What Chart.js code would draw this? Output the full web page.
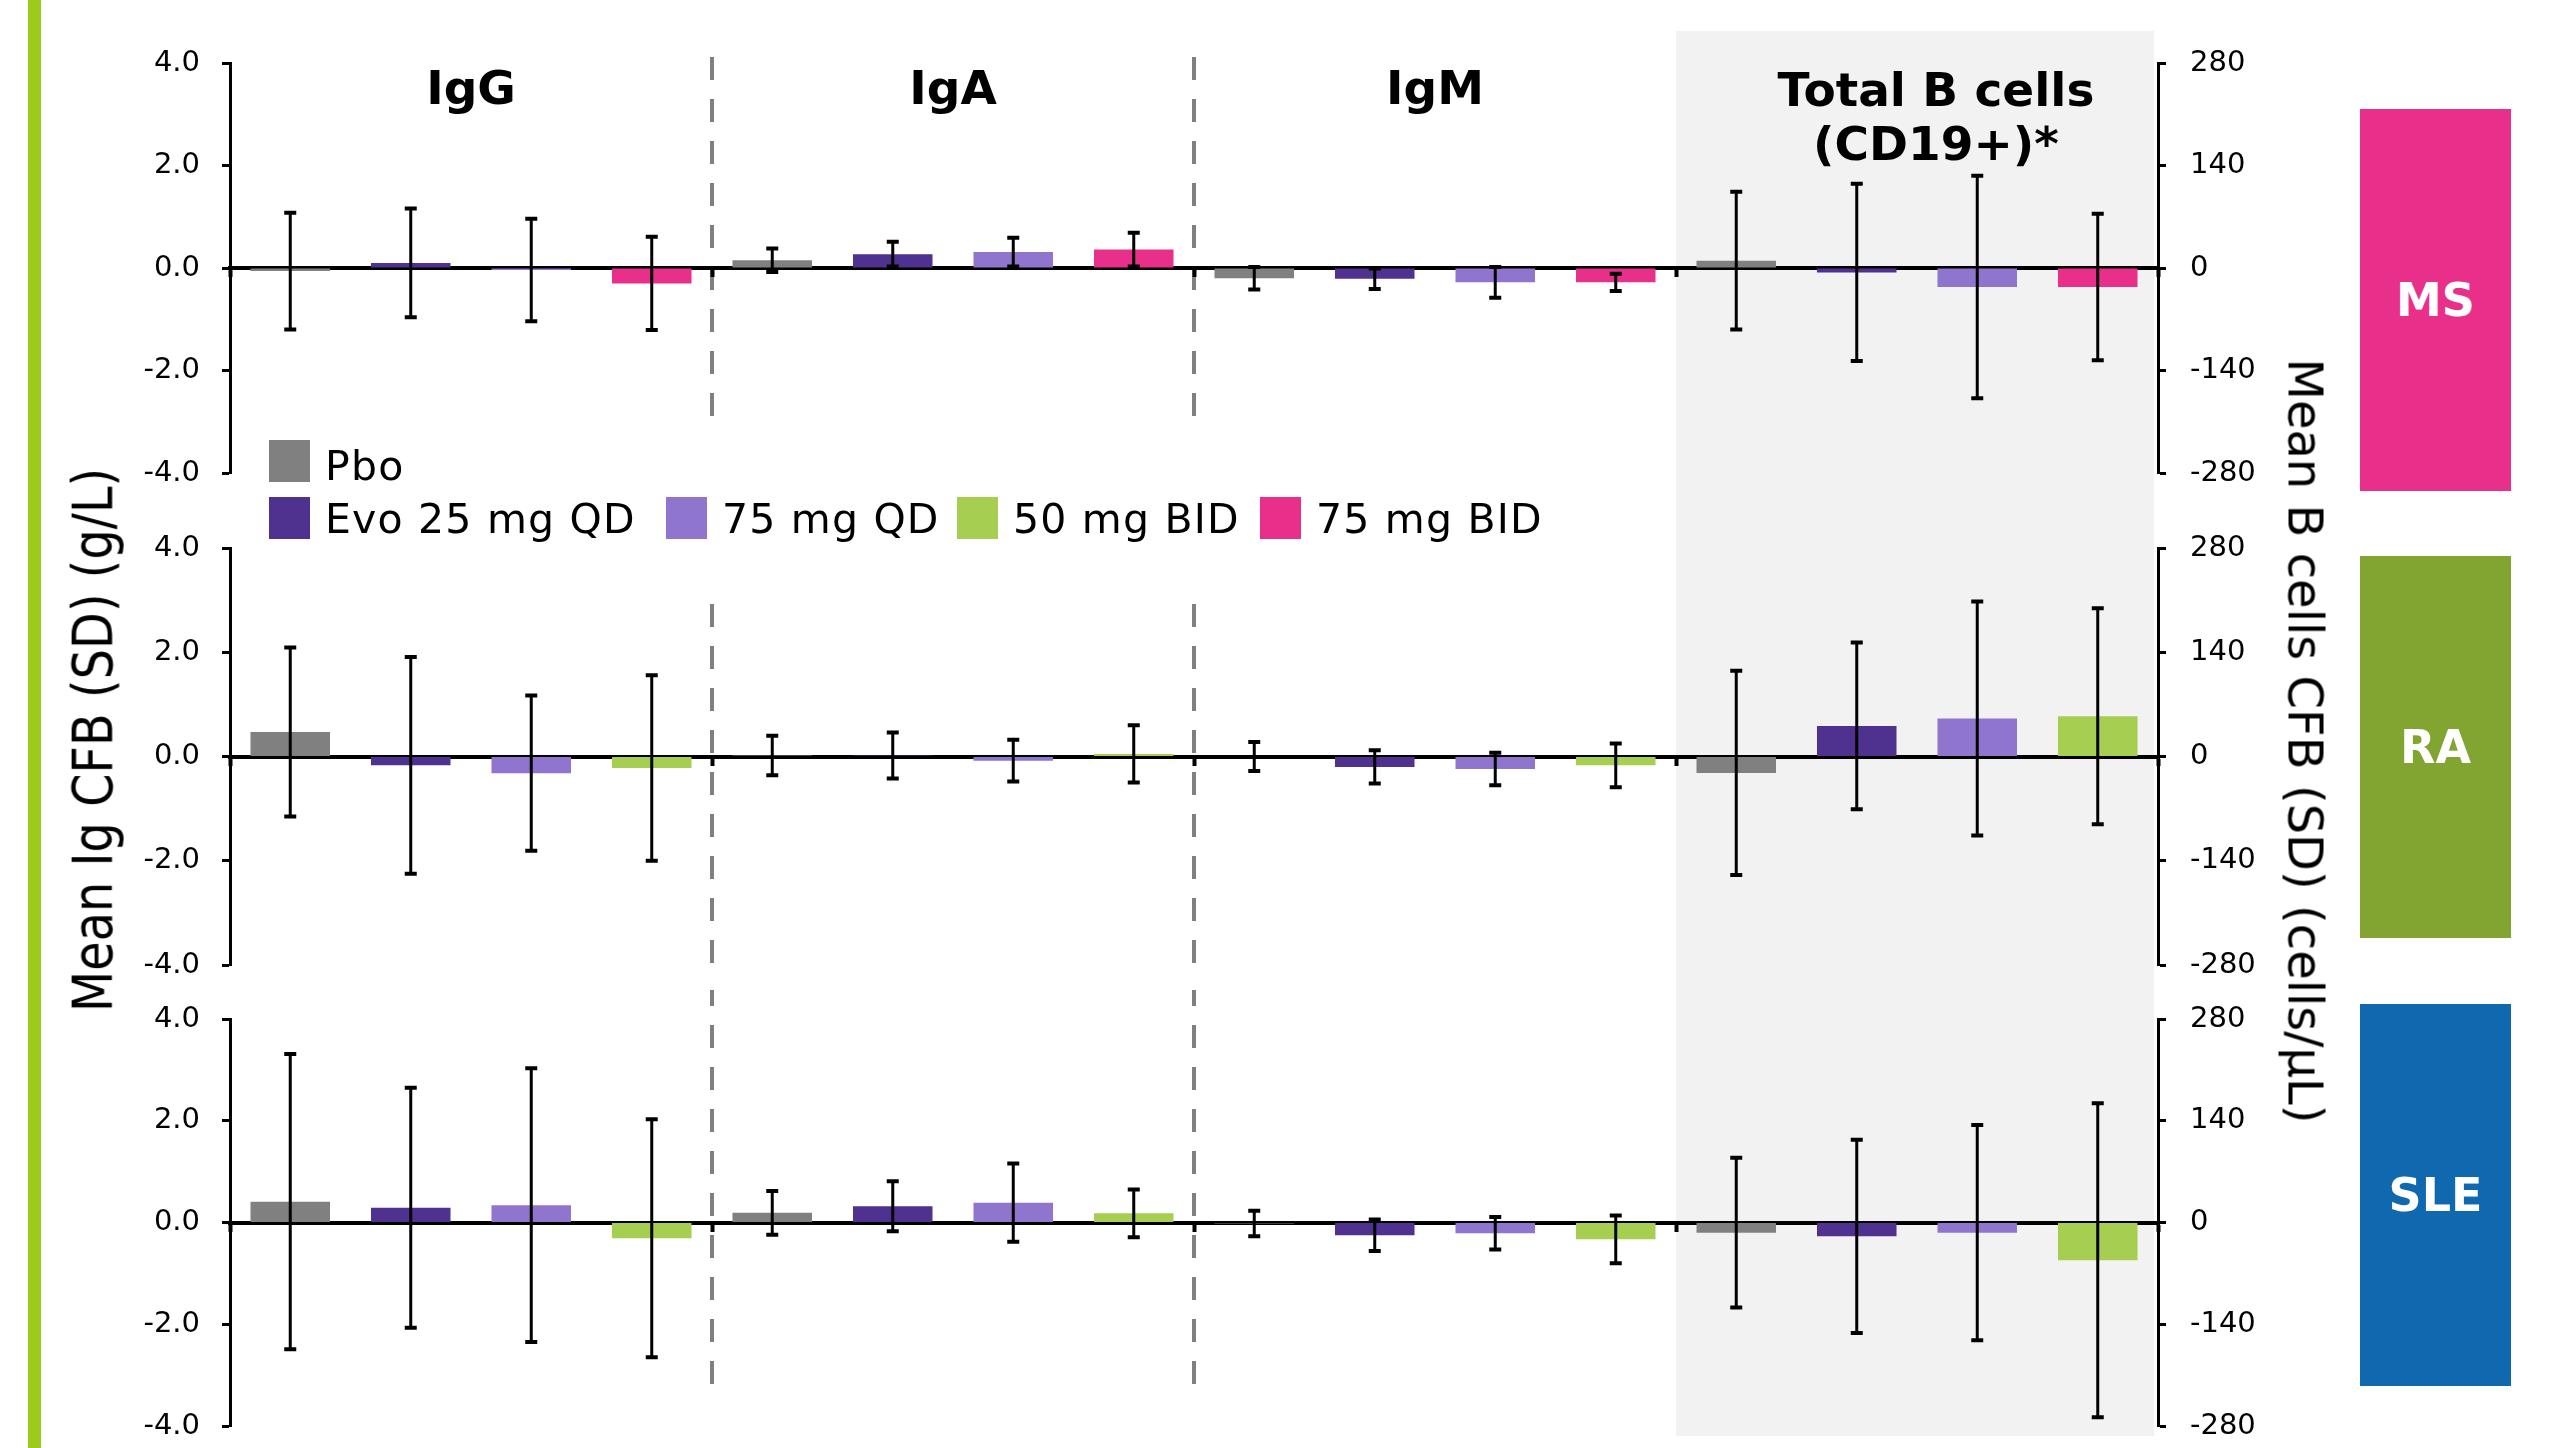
<!DOCTYPE html>
<html>
<head>
<meta charset="utf-8">
<script src="https://cdn.jsdelivr.net/npm/chart.js@4.4.1/dist/chart.umd.min.js"></script>
<style>
html,body{margin:0;padding:0;background:#fff;}
#wrap{position:relative;width:2550px;height:1448px;overflow:hidden;font-family:'DejaVu Sans',sans-serif;background:#fff;}
canvas{position:absolute;left:0;}
.strip{position:absolute;left:28px;top:0;width:13px;height:1448px;background:#9CCB1E;}
.sw{position:absolute;width:41px;height:42px;}
.lt{position:absolute;font-size:41px;line-height:41px;letter-spacing:1.2px;color:#000;white-space:nowrap;}
.side{position:absolute;left:2360px;width:151px;height:382px;display:flex;align-items:center;justify-content:center;color:#fff;font-weight:bold;font-size:46px;}
.ytl{position:absolute;white-space:nowrap;color:#000;line-height:1;}
</style>
</head>
<body>
<div id="wrap">
  <div class="strip"></div>
  <canvas id="c1" width="2550" height="510" style="top:0px"></canvas>
  <canvas id="c2" width="2550" height="480" style="top:510px"></canvas>
  <canvas id="c3" width="2550" height="458" style="top:990px"></canvas>
  <div id="legend"></div>
  <div class="ytl" id="yl" style="font-size:56px;">Mean Ig CFB (SD) (g/L)</div>
  <div class="ytl" id="yr" style="font-size:48px;">Mean B cells CFB (SD) (cells/µL)</div>
  <div class="side" style="top:109px;background:#E8308A;">MS</div>
  <div class="side" style="top:556px;background:#82A532;">RA</div>
  <div class="side" style="top:1004px;background:#1068AF;">SLE</div>
</div>
<script>
// ---- categories & tick labels ----
const categories = ['IgG', 'IgA', 'IgM', 'Total B cells'];
const igTicks = [-4, -2, 0, 2, 4];
const bTicks = [-280, -140, 0, 140, 280];

// ---- series names & colours ----
const seriesNames = ['Pbo', 'Evo 25 mg QD', '75 mg QD', '50 mg BID', '75 mg BID'];
const seriesColors = ['#808080', '#4F3190', '#9075CE', '#A6CE50', '#E8308A'];

// ---- values: [IgG, IgA, IgM (g/L), Total B cells (cells/µL)] ----
// MS
const msPboMean   = [-0.06, 0.15, -0.20, 10];
const msPboSD     = [1.14, 0.23, 0.22, 94];
const msEvo25Mean = [0.10, 0.27, -0.21, -6];
const msEvo25SD   = [1.06, 0.24, 0.20, 121];
const msQD75Mean  = [-0.04, 0.31, -0.28, -26];
const msQD75SD    = [1.00, 0.28, 0.30, 152];
const msBID75Mean = [-0.30, 0.36, -0.28, -26];
const msBID75SD   = [0.91, 0.33, 0.17, 100];
// RA
const raPboMean   = [0.47, 0.02, 0.00, -22];
const raPboSD     = [1.62, 0.38, 0.28, 137];
const raEvo25Mean = [-0.17, 0.02, -0.20, 41];
const raEvo25SD   = [2.08, 0.44, 0.32, 112];
const raQD75Mean  = [-0.32, -0.08, -0.24, 51];
const raQD75SD    = [1.49, 0.40, 0.31, 157];
const raBID50Mean = [-0.22, 0.05, -0.17, 54];
const raBID50SD   = [1.78, 0.55, 0.42, 145];
// SLE
const slePboMean   = [0.41, 0.19, -0.02, -14];
const slePboSD     = [2.90, 0.43, 0.25, 103];
const sleEvo25Mean = [0.29, 0.32, -0.25, -19];
const sleEvo25SD   = [2.36, 0.49, 0.31, 133];
const sleQD75Mean  = [0.34, 0.39, -0.21, -14];
const sleQD75SD    = [2.69, 0.77, 0.32, 148];
const sleBID50Mean = [-0.31, 0.18, -0.33, -52];
const sleBID50SD   = [2.34, 0.47, 0.47, 216];

const FONT = "'DejaVu Sans', sans-serif";

// ---- plugin: background shading, dashed separators, group titles, error bars ----
const decor = {
  id: 'decor',
  beforeDraw(chart, args, o) {
    const ctx = chart.ctx, ca = chart.chartArea, xs = chart.scales.x;
    ctx.save();
    // shaded B-cell region
    const gx0 = (xs.getPixelForValue(2) + xs.getPixelForValue(3)) / 2;
    const gx1 = ca.right - 4;
    const gy0 = o.grayTop === null ? 0 : ca.top + o.grayTop;
    const gy1 = o.grayBottom === null ? chart.height : ca.bottom + o.grayBottom;
    ctx.fillStyle = '#F2F2F2';
    ctx.fillRect(gx0, gy0, gx1 - gx0, gy1 - gy0);
    // dashed separators
    ctx.strokeStyle = '#808080';
    ctx.lineWidth = 4;
    ctx.setLineDash([23, 19]);
    for (const k of [0, 1]) {
      const x = (xs.getPixelForValue(k) + xs.getPixelForValue(k + 1)) / 2;
      ctx.beginPath();
      ctx.moveTo(x, ca.top + o.dashTop);
      ctx.lineTo(x, ca.bottom + o.dashBottom);
      ctx.stroke();
    }
    ctx.setLineDash([]);
    // group titles
    if (o.titles) {
      ctx.fillStyle = '#000';
      ctx.font = 'bold 47px ' + FONT;
      ctx.textAlign = 'center';
      ctx.textBaseline = 'alphabetic';
      for (let k = 0; k < 3; k++) {
        ctx.fillText(categories[k], xs.getPixelForValue(k), ca.top + 41);
      }
      const bx = xs.getPixelForValue(3) + 19;
      ctx.fillText(categories[3], bx, ca.top + 43);
      ctx.fillText('(CD19+)*', bx, ca.top + 97);
    }
    ctx.restore();
  },
  afterDatasetsDraw(chart) {
    const ctx = chart.ctx;
    ctx.save();
    ctx.strokeStyle = '#000';
    chart.data.datasets.forEach((ds, i) => {
      const meta = chart.getDatasetMeta(i);
      const ys = chart.scales[meta.yAxisID];
      meta.data.forEach((el, j) => {
        const v = ds.data[j];
        if (v === null || v === undefined) return;
        const sd = ds.sd[j];
        const yt = ys.getPixelForValue(v + sd);
        const yb = ys.getPixelForValue(v - sd);
        const x = el.x;
        ctx.lineWidth = 3;
        ctx.beginPath();
        ctx.moveTo(x, yt); ctx.lineTo(x, yb);
        ctx.stroke();
        ctx.lineWidth = 4;
        ctx.beginPath();
        ctx.moveTo(x - 6, yt); ctx.lineTo(x + 6, yt);
        ctx.moveTo(x - 6, yb); ctx.lineTo(x + 6, yb);
        ctx.stroke();
      });
    });
    ctx.restore();
  }
};

function makePanel(id, series, padTop, padBottom, decorOpts) {
  const datasets = [];
  series.forEach(s => {
    datasets.push({
      label: s.name, yAxisID: 'y', backgroundColor: s.color,
      data: [s.mean[0], s.mean[1], s.mean[2], null],
      sd: [s.sd[0], s.sd[1], s.sd[2], null]
    });
  });
  series.forEach(s => {
    datasets.push({
      label: s.name + ' (B cells)', yAxisID: 'y2', backgroundColor: s.color,
      data: [null, null, null, s.mean[3]],
      sd: [null, null, null, s.sd[3]]
    });
  });
  const tickFont = { family: FONT, size: 29 };
  return new Chart(document.getElementById(id), {
    type: 'bar',
    data: { labels: categories, datasets },
    options: {
      responsive: false,
      animation: false,
      devicePixelRatio: 1,
      layout: { padding: { top: padTop, bottom: padBottom, left: 0, right: 0 } },
      plugins: { legend: { display: false }, tooltip: { enabled: false }, decor: decorOpts },
      datasets: { bar: { skipNull: true, categoryPercentage: 1.0, barPercentage: 0.66, borderWidth: 0 } },
      scales: {
        x: {
          type: 'category',
          position: { y: 0 },
          offset: true,
          z: 1,
          grid: { display: true, offset: true, drawOnChartArea: false, drawTicks: true, tickLength: 7, tickWidth: 4, tickColor: '#000' },
          border: { display: true, color: '#000', width: 4 },
          ticks: { display: false }
        },
        y: {
          position: 'left',
          min: igTicks[0], max: igTicks[igTicks.length - 1],
          afterFit(s) { s.width = 230; s.paddingTop = 0; s.paddingBottom = 0; },
          afterBuildTicks(s) { s.ticks = igTicks.map(v => ({ value: v })); },
          ticks: { callback: v => Number(v).toFixed(1), font: tickFont, color: '#000', padding: 22 },
          grid: { display: true, drawOnChartArea: false, drawTicks: true, tickLength: 8, tickWidth: 3, tickColor: '#000' },
          border: { display: true, color: '#000', width: 3 }
        },
        y2: {
          position: 'right',
          min: bTicks[0], max: bTicks[bTicks.length - 1],
          afterFit(s) { s.width = 2550 - 2158; s.paddingTop = 0; s.paddingBottom = 0; },
          afterBuildTicks(s) { s.ticks = bTicks.map(v => ({ value: v })); },
          ticks: { callback: v => String(v), font: tickFont, color: '#000', padding: 24 },
          grid: { display: true, drawOnChartArea: false, drawTicks: true, tickLength: 8, tickWidth: 3, tickColor: '#000' },
          border: { display: true, color: '#000', width: 3 }
        }
      }
    },
    plugins: [decor]
  });
}

const S = (n, mean, sd) => ({ name: seriesNames[n], color: seriesColors[n], mean, sd });

makePanel('c1', [S(0, msPboMean, msPboSD), S(1, msEvo25Mean, msEvo25SD), S(2, msQD75Mean, msQD75SD), S(4, msBID75Mean, msBID75SD)],
  63, 37, { grayTop: -32, grayBottom: null, dashTop: -6, dashBottom: -56, titles: true });
makePanel('c2', [S(0, raPboMean, raPboSD), S(1, raEvo25Mean, raEvo25SD), S(2, raQD75Mean, raQD75SD), S(3, raBID50Mean, raBID50SD)],
  38, 25, { grayTop: null, grayBottom: null, dashTop: 56, dashBottom: -2, titles: false });
makePanel('c3', [S(0, slePboMean, slePboSD), S(1, sleEvo25Mean, sleEvo25SD), S(2, sleQD75Mean, sleQD75SD), S(3, sleBID50Mean, sleBID50SD)],
  29, 22, { grayTop: null, grayBottom: 10, dashTop: -36, dashBottom: -41, titles: false });

// ---- legend (HTML) ----
const legendPos = [[269, 440], [269, 497], [666, 497], [957, 497], [1260, 497]];
const lg = document.getElementById('legend');
seriesNames.forEach((n, i) => {
  const [x, y] = legendPos[i];
  const sw = document.createElement('div');
  sw.className = 'sw';
  sw.style.left = x + 'px'; sw.style.top = y + 'px'; sw.style.background = seriesColors[i];
  lg.appendChild(sw);
  const t = document.createElement('div');
  t.className = 'lt';
  t.textContent = n;
  t.style.left = (x + 56) + 'px'; t.style.top = (y + (i === 0 ? 6 : 2)) + 'px';
  lg.appendChild(t);
});

// ---- axis titles ----
function placeRot(el, cx, cy, deg, sx) {
  const w = el.offsetWidth, h = el.offsetHeight;
  el.style.left = (cx - w / 2) + 'px';
  el.style.top = (cy - h / 2) + 'px';
  el.style.transform = 'rotate(' + deg + 'deg) scaleX(' + sx + ')';
}
placeRot(document.getElementById('yl'), 92, 740, -90, 0.854);
placeRot(document.getElementById('yr'), 2305, 741, 90, 1.0);
</script>
</body>
</html>
